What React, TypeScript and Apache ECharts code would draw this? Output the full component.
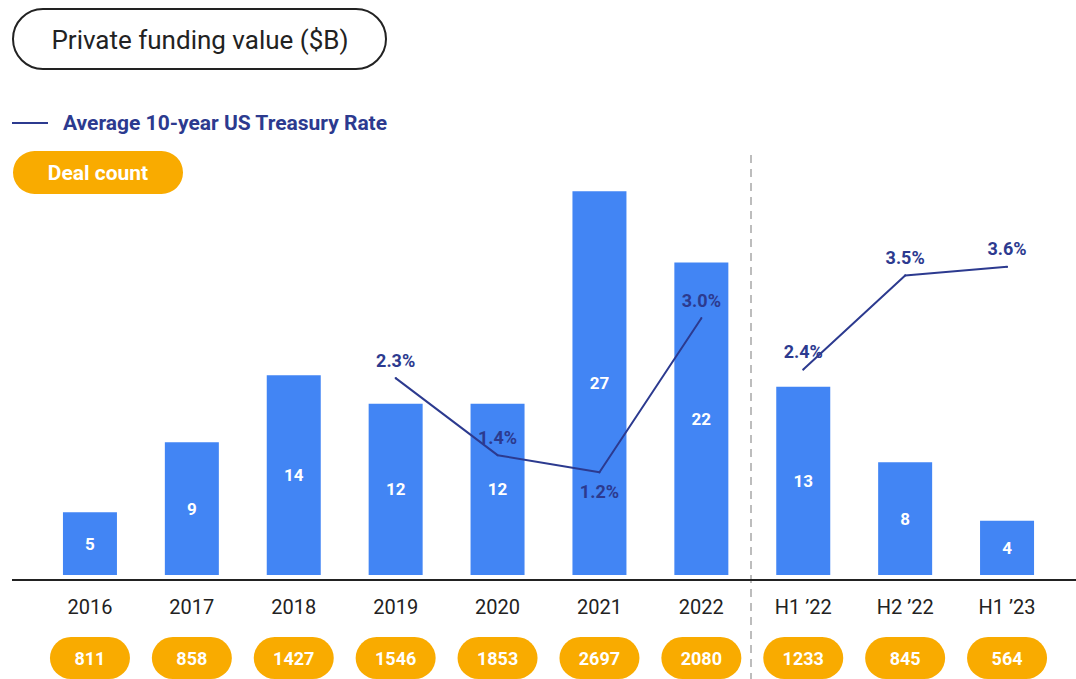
import React, { useEffect, useRef } from 'react';
import * as echarts from 'echarts';

const categories = ['2016', '2017', '2018', '2019', '2020', '2021', '2022', 'H1 ’22', 'H2 ’22', 'H1 ’23'];
const fundingValues = [4.4, 9.3, 14.0, 12.0, 12.0, 26.9, 21.9, 13.2, 7.9, 3.8];
const fundingLabels = [5, 9, 14, 12, 12, 27, 22, 13, 8, 4];
const dealCounts = [811, 858, 1427, 1546, 1853, 2697, 2080, 1233, 845, 564];
const annualRate: (number | string)[] = ['-', '-', '-', 2.3, 1.4, 1.2, 3.0, '-', '-', '-'];
const halfYearRate: (number | string)[] = ['-', '-', '-', '-', '-', '-', '-', 2.4, 3.5, 3.6];
const rateLabelsBelow = ['2021'];

const RATE_NAME = 'Average 10-year US Treasury Rate';
const FONT = 'Roboto, "Noto Sans", sans-serif';
const NAVY = '#2c3a8f';
const BLUE = '#4285f4';
const ORANGE = '#f9ab00';

function rateData(values: (number | string)[]) {
  return values.map((v, i) => {
    const below = rateLabelsBelow.includes(categories[i]);
    return {
      value: v,
      label: { position: below ? 'bottom' : 'top', distance: below ? 9 : 8 },
    };
  });
}

const rateLabel = {
  show: true,
  color: NAVY,
  fontFamily: FONT,
  fontWeight: 'bold',
  fontSize: 18,
  formatter: (p: any) => `${Number(p.value).toFixed(1)}%`,
};

export default function App() {
  const ref = useRef<HTMLDivElement>(null);

  useEffect(() => {
    if (!ref.current) return;
    const chart = echarts.init(ref.current, null, { renderer: 'svg' });
    chart.setOption({
      animation: false,
      backgroundColor: '#ffffff',
      textStyle: { fontFamily: FONT },
      legend: {
        data: [RATE_NAME],
        left: 12,
        top: 110,
        padding: 0,
        icon: 'rect',
        itemWidth: 36,
        itemHeight: 2,
        textStyle: {
          color: NAVY,
          fontFamily: FONT,
          fontWeight: 'bold',
          fontSize: 21,
          lineHeight: 26,
          padding: [0, 0, 0, 10],
        },
      },
      grid: { left: 39, right: 18, top: 147, bottom: 99, containLabel: false },
      xAxis: {
        type: 'category',
        data: categories,
        axisLine: { show: false },
        axisTick: { show: false },
        axisLabel: {
          interval: 0,
          margin: 2,
          formatter: (value: string, idx: number) => `{y|${value}}\n{p|${dealCounts[idx]}}`,
          rich: {
            y: {
              fontFamily: FONT,
              fontSize: 20,
              color: '#222222',
              lineHeight: 60,
              align: 'center',
            },
            p: {
              fontFamily: FONT,
              fontSize: 18,
              fontWeight: 'bold',
              color: '#ffffff',
              backgroundColor: ORANGE,
              borderRadius: 21,
              width: 80,
              height: 42,
              lineHeight: 42,
              align: 'center',
            },
          },
        },
      },
      yAxis: [
        { type: 'value', min: 0, max: 30, show: false, splitLine: { show: false } },
        { type: 'value', min: 0, max: 5, show: false, splitLine: { show: false } },
      ],
      series: [
        {
          name: 'Private funding value ($B)',
          type: 'bar',
          data: fundingValues,
          barWidth: 54,
          itemStyle: { color: BLUE },
          label: {
            show: true,
            position: 'inside',
            color: '#ffffff',
            fontFamily: FONT,
            fontWeight: 'bold',
            fontSize: 17,
            formatter: (p: any) => `${fundingLabels[p.dataIndex]}`,
          },
          z: 2,
        },
        {
          name: RATE_NAME,
          type: 'line',
          yAxisIndex: 1,
          data: rateData(annualRate),
          symbol: 'circle',
          symbolSize: 2,
          showSymbol: true,
          connectNulls: false,
          lineStyle: { color: NAVY, width: 2 },
          itemStyle: { color: NAVY },
          label: rateLabel,
          z: 3,
        },
        {
          name: RATE_NAME,
          type: 'line',
          yAxisIndex: 1,
          data: rateData(halfYearRate),
          symbol: 'circle',
          symbolSize: 2,
          showSymbol: true,
          connectNulls: false,
          lineStyle: { color: NAVY, width: 2 },
          itemStyle: { color: NAVY },
          label: rateLabel,
          z: 3,
        },
      ],
      graphic: [
        {
          type: 'rect',
          shape: { x: 13, y: 9, width: 373, height: 60, r: 30 },
          style: { fill: '#ffffff', stroke: '#222222', lineWidth: 2 },
        },
        {
          type: 'text',
          x: 200,
          y: 40,
          style: {
            text: 'Private funding value ($B)',
            fontFamily: FONT,
            fontSize: 26,
            fill: '#222222',
            align: 'center',
            verticalAlign: 'middle',
          },
        },
        {
          type: 'rect',
          shape: { x: 13, y: 151, width: 170, height: 43, r: 21.5 },
          style: { fill: ORANGE },
        },
        {
          type: 'text',
          x: 98,
          y: 173,
          style: {
            text: 'Deal count',
            fontFamily: FONT,
            fontSize: 21,
            fontWeight: 'bold',
            fill: '#ffffff',
            align: 'center',
            verticalAlign: 'middle',
          },
        },
        {
          type: 'line',
          shape: { x1: 751, y1: 155, x2: 751, y2: 679 },
          style: { stroke: '#bdbdbd', lineWidth: 2, lineDash: [8, 6] },
        },
        {
          type: 'line',
          z: 10,
          shape: { x1: 12, y1: 580, x2: 1076, y2: 580 },
          style: { stroke: '#222222', lineWidth: 2 },
        },
      ],
    });
    return () => chart.dispose();
  }, []);

  return (
    <div
      ref={ref}
      style={{ position: 'fixed', left: 0, top: 0, width: 1076, height: 679 }}
    />
  );
}
